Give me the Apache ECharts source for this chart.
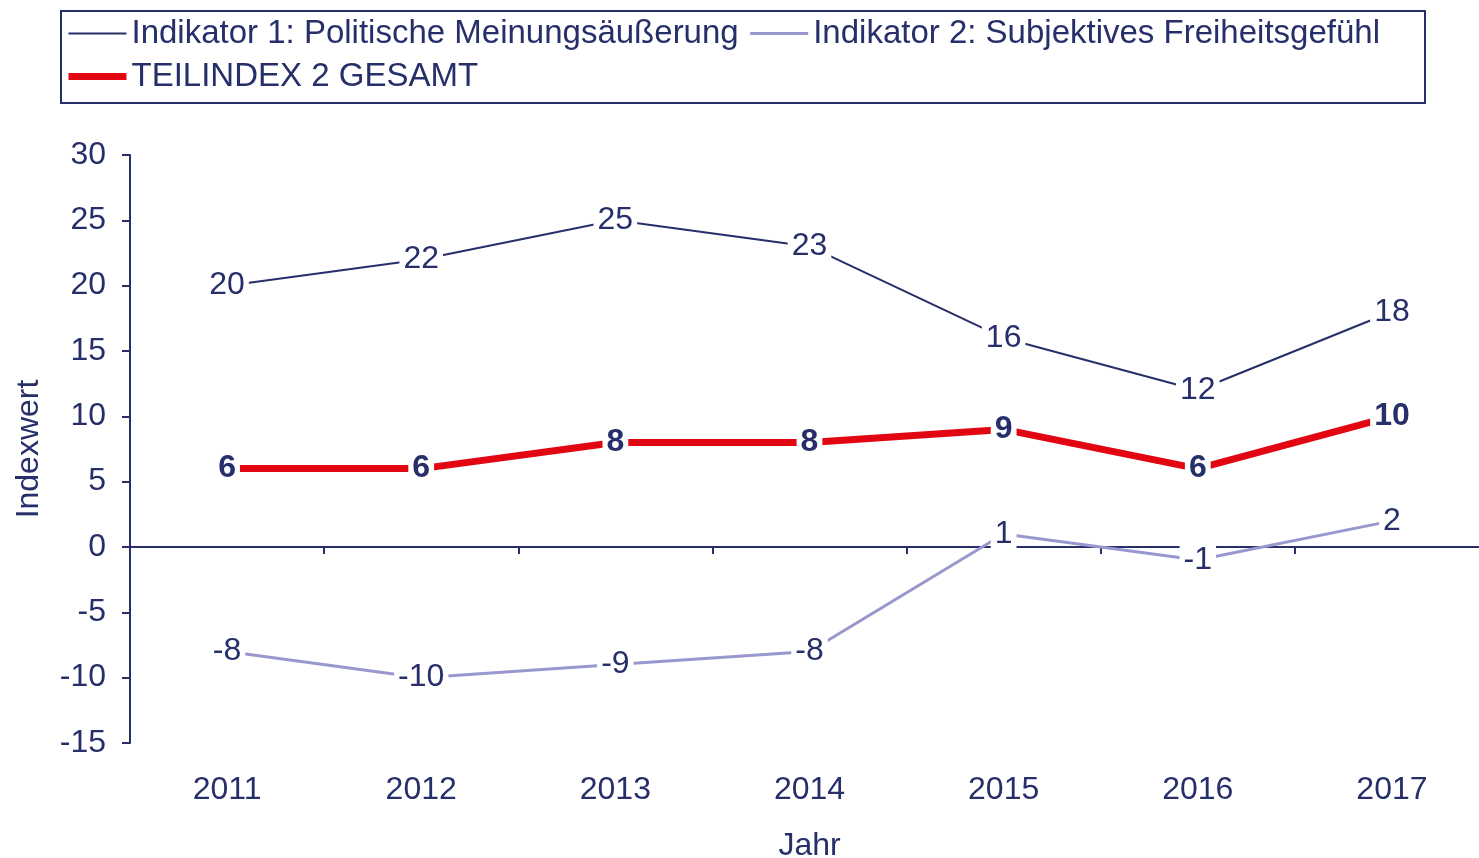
<!DOCTYPE html>
<html>
<head>
<meta charset="utf-8">
<script src="https://cdn.jsdelivr.net/npm/echarts@6/dist/echarts.min.js"></script>
<style>
  html, body { margin: 0; padding: 0; background: #fff; }
  #chart { width: 1479px; height: 858px; }
</style>
</head>
<body>
<div id="chart"></div>
<script>
const years = ['2011', '2012', '2013', '2014', '2015', '2016', '2017']
const indikator1 = [20, 22, 25, 23, 16, 12, 18]
const indikator2 = [-8, -10, -9, -8, 1, -1, 2]
const gesamt = [6, 6, 8, 8, 9, 6, 10]

const navy = '#262f69'
const lilac = '#9898cf'
const red = '#e20613'
const font = 'Liberation Sans, Arial, sans-serif'

const chart = echarts.init(document.getElementById('chart'))

const lineLabel = (bold) => ({
    show: true,
    position: 'inside',
    color: navy,
    fontFamily: font,
    fontSize: 32,
    fontWeight: bold ? 'bold' : 'normal',
    backgroundColor: '#fff',
    padding: [0, 4],
})

chart.setOption({
    animation: false,
    textStyle: { fontFamily: font, color: navy },
    graphic: [{
        type: 'rect',
        shape: { x: 61, y: 11, width: 1364, height: 92 },
        style: { fill: 'none', stroke: navy, lineWidth: 2 },
    }],
    legend: {
        left: 65,
        top: 17,
        padding: 0,
        itemWidth: 58,
        itemHeight: 14,
        itemGap: 10,
        textStyle: { fontFamily: font, fontSize: 33, color: navy },
        data: [
            { name: 'Indikator 1: Politische Meinungsäußerung', lineStyle: { width: 2, color: navy } },
            { name: 'Indikator 2: Subjektives Freiheitsgefühl', lineStyle: { width: 3, color: lilac } },
            '',
            { name: 'TEILINDEX 2 GESAMT', lineStyle: { width: 7, color: red } },
        ],
    },
    grid: { left: 130, top: 155, width: 1359, height: 588, outerBoundsMode: 'none' },
    xAxis: [{
        type: 'category',
        data: years,
        position: 'bottom',
        axisLine: { show: false, onZero: false },
        axisTick: { show: false },
        axisLabel: { color: navy, fontSize: 32, margin: 31, fontFamily: font },
        name: 'Jahr',
        nameLocation: 'middle',
        nameGap: 87,
        nameTextStyle: { color: navy, fontSize: 32, fontFamily: font },
    }, {
        type: 'category',
        data: years,
        position: 'bottom',
        axisLine: { show: true, onZero: true, lineStyle: { color: navy, width: 2 } },
        axisTick: { show: true, length: 7, lineStyle: { color: navy, width: 2 } },
        axisLabel: { show: false },
    }],
    yAxis: {
        type: 'value',
        min: -15,
        max: 30,
        interval: 5,
        axisLine: { show: true, lineStyle: { color: navy, width: 2 } },
        axisTick: { show: true, length: 8, lineStyle: { color: navy, width: 2 } },
        splitLine: { show: false },
        axisLabel: { color: navy, fontSize: 32, margin: 24, fontFamily: font },
        name: 'Indexwert',
        nameLocation: 'middle',
        nameGap: 85,
        nameTextStyle: { color: navy, fontSize: 32, fontFamily: font },
    },
    series: [{
        name: 'Indikator 1: Politische Meinungsäußerung',
        type: 'line',
        data: indikator1,
        symbol: 'circle',
        symbolSize: 0,
        itemStyle: { color: 'rgba(0,0,0,0)' },
        lineStyle: { color: navy, width: 2 },
        label: lineLabel(false),
        z: 3,
    }, {
        name: 'Indikator 2: Subjektives Freiheitsgefühl',
        type: 'line',
        data: indikator2,
        symbol: 'circle',
        symbolSize: 0,
        itemStyle: { color: 'rgba(0,0,0,0)' },
        lineStyle: { color: lilac, width: 3 },
        label: lineLabel(false),
        z: 3,
    }, {
        name: 'TEILINDEX 2 GESAMT',
        type: 'line',
        data: gesamt,
        symbol: 'circle',
        symbolSize: 0,
        itemStyle: { color: 'rgba(0,0,0,0)' },
        lineStyle: { color: red, width: 7 },
        label: lineLabel(true),
        z: 4,
    }],
})
</script>
</body>
</html>
